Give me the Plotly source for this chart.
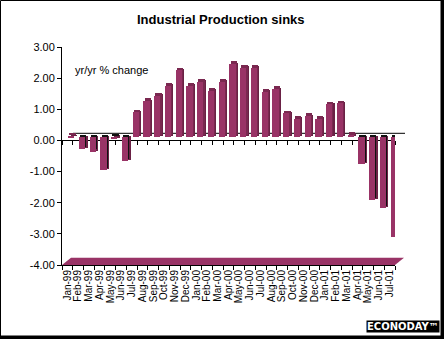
import plotly.graph_objects as go

months = ["Jan-99", "Feb-99", "Mar-99", "Apr-99", "May-99", "Jun-99", "Jul-99", "Aug-99",
          "Sep-99", "Oct-99", "Nov-99", "Dec-99", "Jan-00", "Feb-00", "Mar-00", "Apr-00",
          "May-00", "Jun-00", "Jul-00", "Aug-00", "Sep-00", "Oct-00", "Nov-00", "Dec-00",
          "Jan-01", "Feb-01", "Mar-01", "Apr-01", "May-01", "Jun-01", "Jul-01"]
yoy_change = [0.02, -0.40, -0.48, -1.07, -0.06, -0.78, 0.80, 1.16,
              1.33, 1.65, 2.15, 1.65, 1.78, 1.49, 1.78, 2.35,
              2.23, 2.23, 1.46, 1.55, 0.77, 0.59, 0.68, 0.59,
              1.06, 1.08, 0.08, -0.88, -2.03, -2.29, -3.22]
y_ticks = [3, 2, 1, 0, -1, -2, -3, -4]
y_tick_labels = [f"{v:.2f}" for v in y_ticks]

W, H = 444, 339
L, R, T, B = 62, 49, 47, 74
PW, PH = W - L - R, H - T - B
YMIN, YMAX = -4, 3
N = len(months)
CAT_PX = PW / N
UNIT_PX = PH / (YMAX - YMIN)


def px2x(px):
    return (px - L) / PW


def py2y(py):
    return (H - B - py) / PH


FRONT = "#993366"
SIDE = "#6a2145"
TOP_POS = "#7a2850"
TOP_NEG = "#111111"
FONT = "Arial, Liberation Sans, sans-serif"

# 3-D look: front faces plus darker side and top faces drawn on shifted overlay axes
front_dx, front_dy = 4.0 / CAT_PX, 3.4 / UNIT_PX
side_dx, side_dy = 6.3 / CAT_PX, 4.6 / UNIT_PX
top_dx, top_dy = 5.2 / CAT_PX, 5.9 / UNIT_PX
bar_w = 0.58
top_colors = [TOP_POS if v >= 0 else TOP_NEG for v in yoy_change]

fig = go.Figure()
fig.add_trace(go.Scatter(x=months, y=[None] * N, xaxis="x", yaxis="y", showlegend=False, hoverinfo="skip"))
fig.add_trace(go.Bar(x=months, y=yoy_change, xaxis="x2", yaxis="y2", width=bar_w,
                     marker=dict(color=SIDE, line=dict(width=0)), showlegend=False))
fig.add_trace(go.Bar(x=months, y=yoy_change, xaxis="x3", yaxis="y3", width=bar_w,
                     marker=dict(color=top_colors, line=dict(width=0)), showlegend=False))
fig.add_trace(go.Bar(x=months, y=yoy_change, xaxis="x4", yaxis="y4", width=bar_w,
                     marker=dict(color=FRONT, line=dict(width=0)), showlegend=False))
fig.add_trace(go.Scatter(x=months, y=[None] * N, xaxis="x5", yaxis="y", showlegend=False, hoverinfo="skip"))

cat_common = dict(type="category", categoryorder="array", categoryarray=months)


def shifted(dx, dy, yid):
    xa = dict(**cat_common, overlaying="x", anchor=yid, visible=False,
              range=[-0.5 - dx, N - 0.5 - dx])
    ya = dict(overlaying="y", visible=False, range=[YMIN - dy, YMAX - dy])
    return xa, ya


x2, y2 = shifted(side_dx, side_dy, "y2")
x3, y3 = shifted(top_dx, top_dy, "y3")
x4, y4 = shifted(front_dx, front_dy, "y4")

fig.update_layout(
    width=W, height=H,
    margin=dict(l=L, r=R, t=T, b=B, pad=0),
    paper_bgcolor="white", plot_bgcolor="white",
    showlegend=False,
    font=dict(family=FONT, color="black", size=11),
    xaxis=dict(**cat_common, range=[-0.5, N - 0.5], anchor="free",
               position=(0 - YMIN) / (YMAX - YMIN), showline=True, linecolor="black", linewidth=1,
               ticks="outside", tickson="boundaries", ticklen=4, tickcolor="black",
               tickmode="linear", tick0=0, dtick=1,
               showticklabels=False, showgrid=False, zeroline=False, layer="below traces"),
    xaxis2=x2, yaxis2=y2, xaxis3=x3, yaxis3=y3, xaxis4=x4, yaxis4=y4,
    xaxis5=dict(**cat_common, overlaying="x", anchor="y", side="bottom",
                range=[-0.5, N - 0.5], showline=True, linecolor="black", linewidth=1,
                ticks="outside", tickson="boundaries", ticklen=4, tickcolor="black",
                tickmode="linear", tick0=0, dtick=1,
                tickangle=-90, tickfont=dict(size=10, family=FONT), showgrid=False, zeroline=False),
    yaxis=dict(range=[YMIN, YMAX], tickvals=y_ticks, ticktext=y_tick_labels,
               showline=True, linecolor="black", linewidth=1, ticks="outside", ticklen=4,
               tickcolor="black", showgrid=False, zeroline=False, tickfont=dict(size=11)),
    bargap=0,
)

# floor of the 3-D chart
dxp, dyp = 9 / PW, 7.3 / PH
fig.add_shape(type="path", xref="paper", yref="paper",
              path=f"M 0,0 L 1,0 L {1 + dxp},{dyp} L {dxp},{dyp} Z",
              fillcolor=FRONT, line=dict(width=0), layer="below")
# back-wall zero line
fig.add_shape(type="line", xref="paper", yref="paper",
              x0=px2x(73), x1=px2x(405), y0=py2y(133.3), y1=py2y(133.3),
              line=dict(color="black", width=1), layer="below")

# outer frame
fig.add_shape(type="rect", xref="paper", yref="paper",
              x0=px2x(0.5), x1=px2x(441), y0=py2y(0.5), y1=py2y(336),
              line=dict(color="black", width=1), layer="above")
fig.add_shape(type="rect", xref="paper", yref="paper",
              x0=px2x(441), x1=px2x(444), y0=py2y(0), y1=py2y(339),
              fillcolor="black", line=dict(width=0), layer="above")
fig.add_shape(type="rect", xref="paper", yref="paper",
              x0=px2x(0), x1=px2x(444), y0=py2y(336), y1=py2y(339),
              fillcolor="black", line=dict(width=0), layer="above")

fig.add_annotation(text="<b>Industrial Production sinks</b>", xref="paper", yref="paper",
                   x=px2x(221), y=py2y(20), xanchor="center", yanchor="middle",
                   showarrow=False, font=dict(size=13, family=FONT, color="black"))
fig.add_annotation(text="yr/yr % change", xref="paper", yref="paper",
                   x=px2x(73), y=py2y(70), xanchor="left", yanchor="middle",
                   showarrow=False, font=dict(size=11, family=FONT, color="black"))
fig.add_annotation(text="<b>ECONODAY™</b>", xref="paper", yref="paper",
                   x=px2x(440), y=py2y(326), xanchor="right", yanchor="middle",
                   showarrow=False, bgcolor="black", borderpad=0,
                   font=dict(size=10, family="DejaVu Sans, sans-serif", color="white"))

fig.write_html("out.html")
